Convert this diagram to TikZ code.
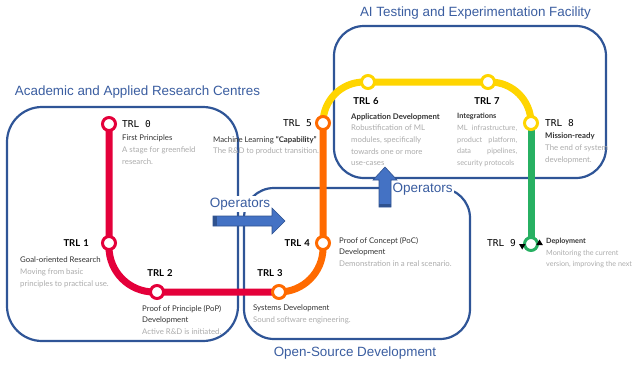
\documentclass[tikz,border=0pt]{standalone}
\usepackage{fontspec}
\setmainfont{Liberation Sans}
\newfontfamily\descfont{Lato}
\newfontfamily\monofont{DejaVu Sans Mono}
\newfontfamily\trlfont{Lato}
\definecolor{boxblue}{HTML}{2F5597}
\definecolor{titleblue}{HTML}{3A5DA0}
\definecolor{arrowblue}{HTML}{4472C4}
\definecolor{arrowdark}{HTML}{2F528F}
\definecolor{mred}{HTML}{E4003A}
\definecolor{morange}{HTML}{FF6A00}
\definecolor{myellow}{HTML}{FFD500}
\definecolor{mgreen}{HTML}{27B062}
\definecolor{dtitle}{HTML}{333333}
\definecolor{dgray}{HTML}{ABABAB}
\newcommand\dt[1]{\textcolor{dtitle}{#1}}
\newcommand\jline[1]{\makebox[60pt][s]{#1}}
\begin{document}
\begin{tikzpicture}[x=1pt,y=-1pt,
  grpbox/.style={draw=boxblue, line width=2.2pt, rounded corners=30pt},
  grptitle/.style={text=titleblue, font=\fontsize{13.4}{15}\selectfont, inner sep=0pt},
  metro/.style={line width=7pt},
  station/.style={circle, fill=white, line width=3pt, minimum size=13pt, inner sep=0pt},
  trlb/.style={font=\trlfont\bfseries\fontsize{9.5}{11}\selectfont, inner sep=0pt},
  trlm/.style={font=\monofont\fontsize{9.5}{11}\selectfont, inner sep=0pt},
  desc/.style={font=\descfont\fontsize{7.8}{11.7}\selectfont, text=dgray, align=left, inner sep=0pt, anchor=north west},
  opfill/.style={fill=arrowblue, draw=arrowdark, line width=0.6pt},
  optext/.style={text=titleblue, font=\fontsize{13.5}{15}\selectfont, fill=white, inner sep=1.5pt}
]
\useasboundingbox (0,0) rectangle (637,364);

% group boxes
\draw[grpbox, rounded corners=35pt] (7,107) rectangle (238,341);
\draw[grpbox] (244,188) rectangle (470,339);
\draw[grpbox] (334,26) rectangle (606,178);

\node[grptitle] (tacad) at (137.5,92) {Academic and Applied Research Centres};
\node[grptitle] (tai) at (475.5,13) {AI Testing and Experimentation Facility};
\node[grptitle] (tos) at (355,353) {Open-Source Development};

% metro line
\coordinate (p0) at (109,124);
\coordinate (p1) at (109,243);
\coordinate (p2) at (157,292);
\coordinate (p3) at (279,292);
\coordinate (p4) at (323,243);
\coordinate (p5) at (323,123);
\coordinate (p6) at (368,82);
\coordinate (p7) at (488,82);
\coordinate (p8) at (531,123);
\coordinate (p9) at (531,244);

\draw[metro, mred, rounded corners=45pt] (p0) -- (p0 |- p3) -- (p3);
\draw[metro, morange, rounded corners=44pt] (p3) -- (p3 -| p5) -- (p5);
\draw[metro, myellow, rounded corners=41pt] (p5) -- (p5 |- p6) -- (p8 |- p7) -- (p8);
\draw[metro, mgreen] (p8) -- (p9);

\node[station, draw=mred] (s0) at (p0) {};
\node[station, draw=mred] (s1) at (p1) {};
\node[station, draw=mred] (s2) at (p2) {};
\node[station, draw=morange] (s3) at (p3) {};
\node[station, draw=morange] (s4) at (p4) {};
\node[station, draw=morange] (s5) at (p5) {};
\node[station, draw=myellow] (s6) at (p6) {};
\node[station, draw=myellow] (s7) at (p7) {};
\node[station, draw=myellow] (s8) at (p8) {};
\node[station, draw=mgreen] (s9) at (p9) {};
\fill[black] (519,244) -- (525.5,244) -- (522.2,249.5) -- cycle;
\fill[black] (536.3,245) -- (542.8,245) -- (539.5,239.5) -- cycle;

% TRL labels
\node[trlm, anchor=west] (l0) at (122,124) {TRL 0};
\node[trlb, anchor=east] (l1) at (89,243) {TRL\hspace{3pt}1};
\node[trlb, anchor=center] (l2) at (160,273) {TRL\hspace{3pt}2};
\node[trlb, anchor=center] (l3) at (270,273) {TRL\hspace{3pt}3};
\node[trlb, anchor=east] (l4) at (310,243) {TRL\hspace{3pt}4};
\node[trlm, anchor=east] (l5) at (312,123) {TRL 5};
\node[trlb, anchor=center] (l6) at (366,101) {TRL\hspace{3pt}6};
\node[trlb, anchor=center] (l7) at (487,101) {TRL\hspace{3pt}7};
\node[trlm, anchor=west] (l8) at (545,123) {TRL 8};
\node[trlm, anchor=east] (l9) at (516,243) {TRL 9};

% descriptions
\node[desc] (d0) at (122,135) {\dt{First Principles}\\A stage for greenfield\\research.};
\node[desc] (d1) at (20,257) {\dt{Goal-oriented Research}\\Moving from basic\\principles to practical use.};
\node[desc] (d2) at (142,305) {\dt{Proof of Principle (PoP)}\\\dt{Development}\\Active R\&D is initiated.};
\node[desc] (d3) at (253,305) {\dt{Systems Development}\\Sound software engineering.};
\node[desc] (d4) at (339,237) {\dt{Proof of Concept (PoC)}\\\dt{Development}\\Demonstration in a real scenario.};
\node[desc] (d5) at (213,136) {\dt{Machine Learning \textbf{\char"201C Capability\char"201D}}\\The R\&D to product transition.};
\node[desc] (d6) at (351,113) {\dt{\textbf{Application Development}}\\Robustification of ML\\modules, specifically\\towards one or more\\use-cases};
\node[desc, font=\descfont\fontsize{7.3}{11.7}\selectfont] (d7) at (457,113) {\dt{\textbf{Integrations}}\\\jline{ML infrastructure,}\\\jline{product platform,}\\\jline{data pipelines,}\\security protocols};
\node[desc] (d8) at (545,133) {\dt{\textbf{Mission-ready}}\\The end of system\\development.};
\node[desc, font=\descfont\fontsize{7.2}{11.7}\selectfont] (d9) at (546,238) {\dt{\textbf{Deployment}}\\Monitoring the current\\version, improving the next};

% operators arrows
\node[optext] (o1) at (240,204) {Operators};
\filldraw[opfill] (213,216) -- (272,216) -- (272,208) -- (285,221) -- (272,234) -- (272,226) -- (213,226) -- cycle;
\fill[arrowdark] (213,216) rectangle (216.5,226);
\node[optext, anchor=west] (o2) at (391,189) {Operators};
\filldraw[opfill] (379,207) -- (379,180) -- (373,180) -- (385,167) -- (397,180) -- (391,180) -- (391,207) -- cycle;
\fill[arrowdark] (379,203.5) rectangle (391,207);
\end{tikzpicture}
\end{document}
